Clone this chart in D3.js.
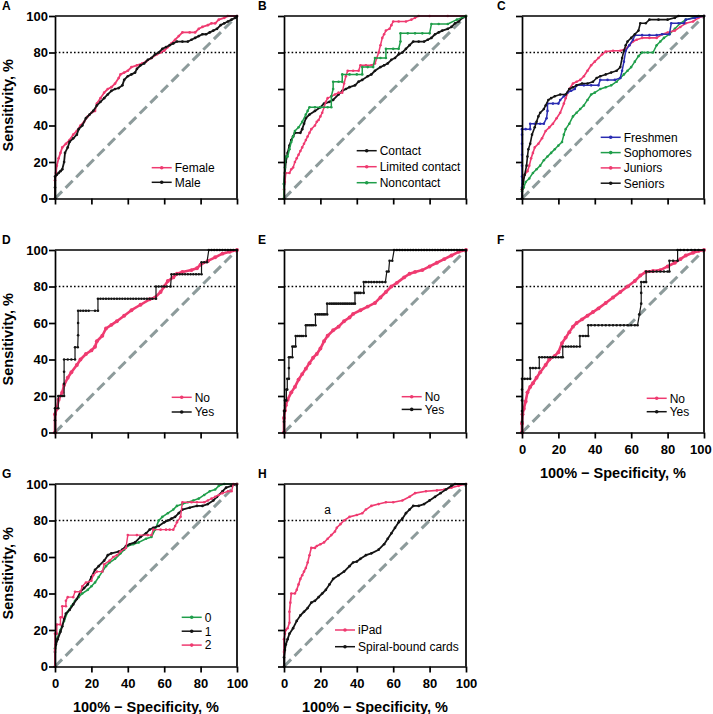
<!DOCTYPE html>
<html><head><meta charset="utf-8">
<script src="https://cdn.jsdelivr.net/npm/d3@7"></script>
<style>
html,body{margin:0;padding:0;background:#fff;}
svg{display:block;font-family:"Liberation Sans",Arial,Helvetica,sans-serif;}
</style></head>
<body>
<svg id="chart" width="713" height="714"></svg>
<script>
// ---------- data ----------
const xTicks = [0, 20, 40, 60, 80, 100];
const yTicks = [0, 20, 40, 60, 80, 100];
const panelLetters = ["A", "B", "C", "D", "E", "F", "G", "H"];
const xTitle = "100% \u2212 Specificity, %";
const yTitle = "Sensitivity, %";
const cutoff = 80;

const namesA = ["Female", "Male"];
const namesB = ["Contact", "Limited contact", "Noncontact"];
const namesC = ["Freshmen", "Sophomores", "Juniors", "Seniors"];
const namesD = ["No", "Yes"];
const namesE = ["No", "Yes"];
const namesF = ["No", "Yes"];
const namesG = ["0", "1", "2"];
const namesH = ["iPad", "Spiral-bound cards"];
const noteH = {text: "a", x: 24, y: 83.5};

const aFemale = [[0,0],[0,10],[0.5,14],[1,18],[2,22],[3,25],[4,28],[6,30],[8,32],[10,35],[12,37],[14,40],[16,42],[18,45],[20,47],[22,48],[23,52],[25,55],[27,58],[29,60],[31,61],[33,63],[35,66],[36,68],[38,69],[40,70],[42,72],[45,73],[48,74],[50,75],[53,77],[56,79],[58,80],[60,81],[62,83],[64,85],[66,87],[68,89],[70,91],[74,91],[77,91],[79,93],[81,94],[84,95],[86,96],[88,96],[90,98],[93,99],[95,100],[100,100]];
const aMale = [[0,0],[0,6],[0,12],[1,13],[2,14],[3,15],[4,16],[5,20],[5.5,25],[7,28],[8,31],[10,33],[12,35],[13,38],[15,40],[17,44],[19,46],[21,48],[23,51],[25,53],[27,55],[29,57],[31,59],[33,60],[35,60.5],[37,62],[38,65],[40,67],[42,68],[44,69],[45,71],[47,73],[49,74],[51,76],[53,77],[55,79],[57,80],[59,82],[61,83],[63,84],[65,85],[67,86],[70,86],[73,86],[75,87],[77,88],[79,89],[81,90],[83,90],[85,91],[87,92],[89,93],[91,95],[93,96],[95,97],[97,98],[99,99],[100,100]];

const bContact = [[0,0],[0,8],[0.5,14],[1,20],[2,25],[3,29],[4,32],[5,34],[6,36],[9,36],[10,38],[11,41],[12,44],[14,46],[17,48],[20,50],[22,52],[25,53],[27,54],[30,57],[32,59],[34,60],[36,61],[39,62],[41,64],[43,65],[46,67],[48,68],[50,70],[53,72],[55,73],[57,74],[59,76],[61,77],[63,79],[65,80],[67,82],[69,84],[71,86],[74,86],[77,86],[79,87],[81,88],[83,90],[85,91],[87,92],[90,93],[92,94],[94,96],[96,97],[98,99],[100,100]];
const bLimited = [[0,0],[0,5],[0.5,9],[1,14],[3,14],[4,16],[5,17],[6,20],[7,22],[8,24],[9,26],[10,28],[11,30],[12,32],[13,34],[14,36],[15,38],[17,40],[18,42],[19,43],[20,45],[21,47],[22,50],[23,53],[24,55],[26,56],[28,57],[30,58],[32,58],[33,63],[34,67],[35,70],[38,70],[41,70],[42,73],[45,73],[48,73],[50,74],[51,77],[52,80],[53,84],[54,88],[55,90],[56,92],[58,93],[59,95],[60,97],[63,97],[67,97],[70,98],[72,99],[74,100],[80,100],[90,100],[100,100]];
const bNon = [[0,0],[0,8],[0.5,17],[1,23],[2,23],[3,27],[4,31],[5,34],[6,37],[8,39],[10,42],[12,46],[13,48],[14,50],[17,50],[20,50],[24,50],[26,50],[26,56],[27,60],[27,64],[30,64],[32,64],[32,68],[36,68],[40,68],[43,68],[43,72],[46,72],[49,72],[50,77],[53,77],[56,77],[56,82],[60,82],[63,82],[64,86],[64,90.5],[68,90.5],[72,90.5],[76,90.5],[80,90.5],[81,95.6],[85,95.6],[90,95.6],[95,98],[100,100]];

const cFresh = [[0,0],[0,6],[0,12],[0,18],[0,24],[0,30],[0,35],[0,38],[2,38],[4.5,38],[4.5,41],[7,41],[10,41],[12,41],[13.5,44],[14,48],[14,52],[17,52],[20,52],[21,54],[23,56],[25,58],[27,59],[29,60],[30,62],[34,62],[38,62],[42,62],[43,65],[47,65],[51,65],[54,66],[55,70],[56,75],[57,81],[59,84],[61,87],[62,89.5],[66,89.5],[70,89.5],[74,89.5],[77,90],[81,90],[82,96],[86,96],[89,96],[90,98],[95,99],[100,100]];
const cSoph = [[0,0],[0,4],[1,6],[2,9],[4,11],[6,14],[8,16],[10,18],[12,21],[14,23],[16,25],[18,27],[20,29],[22,31],[23,35],[24,38],[26,41],[28,45],[30,47],[32,49],[34,51],[36,54],[38,57],[40,58],[43,60],[46,61],[49,62],[52,64],[54,66],[56,68],[58,70],[60,72],[62,75],[64,78],[66,80],[69,80],[72,80],[74,84],[76,86],[78,88],[81,90],[84,93],[87,96],[90,98],[94,99],[97,100],[100,100]];
const cJun = [[0,0],[0,5],[0.5,10],[1.5,13],[3,15],[4,18],[5,22],[6,25],[7,28],[9,30],[11,33],[13,37],[15,39],[17,41],[19,44],[21,47],[23,52],[24,55],[26,60],[28,63],[30,64],[32,65],[34,67],[36,70],[38,73],[40,75],[42,77],[44,79],[46,80.5],[50,81],[54,81],[57,82],[59,84],[61,86],[63,87],[66,88],[70,88],[74,88],[77,90],[80,91],[84,92],[87,94],[90,96],[94,97],[97,99],[100,100]];
const cSen = [[0,0],[0,5],[0.5,8],[1.5,13],[2.5,18],[3,23],[3.5,27],[4.5,30],[5.5,35],[7,39],[8,42],[9,45],[10,47],[12,49],[13,51],[14.5,54],[16,55],[18,56],[21,57],[24,57],[26,60],[28,61],[30,62],[33,63],[36,63],[39,64],[41,66],[43,67],[46,68],[49,69],[52,70],[54,72],[55,77],[56,81],[57,84],[58,86],[60,88],[62,90],[64,92],[65,96],[68,96],[70,98],[75,98],[80,98],[84,99],[86,100],[100,100]];

const dNo = [[0,0],[0,10],[1,13],[2,18],[4,22],[5,26],[7,30],[9,33],[12,37],[14,40],[17,43],[20,45],[22,47],[23,50],[26,53],[28,57],[31,59],[34,61],[38,64],[42,67],[47,70],[52,73],[55,74],[58,77],[60,80],[62,83],[65,85],[67,87],[70,88],[75,89],[78,90],[80,92],[84,94],[88,96],[92,98],[96,99],[100,100]];
const dYes = [[0,0],[0,6.7],[0,13.3],[1.8,13.3],[1.8,20],[3,20],[4,20],[5,20],[5,26.7],[5,33.3],[5,40],[7,40],[9,40],[11,40],[11,46.7],[12.5,46.7],[12.7,53.3],[12.7,60],[12.7,66.7],[14,66.7],[15.5,66.7],[17,66.7],[18.5,66.7],[22,66.7],[23.6,66.7],[23.6,73.3],[25,73.3],[26.5,73.3],[28,73.3],[29.5,73.3],[31,73.3],[32.5,73.3],[34,73.3],[35.5,73.3],[37,73.3],[38.5,73.3],[40,73.3],[41.5,73.3],[43,73.3],[44.5,73.3],[46,73.3],[47.5,73.3],[49,73.3],[50.5,73.3],[52,73.3],[53.5,73.3],[55.5,73.3],[55.5,80],[57,80],[58.5,80],[60,80],[61.5,80],[63.5,80],[64,86.7],[65.5,86.7],[67,86.7],[68.5,86.7],[70,86.7],[71.5,86.7],[73,86.7],[74.5,86.7],[76,86.7],[77.5,86.7],[79,86.7],[80.5,86.7],[80.5,93.3],[82,93.3],[83.5,93.3],[84.5,100],[86,100],[87.5,100],[89,100],[90.5,100],[92,100],[93.5,100],[95,100],[96.5,100],[98,100],[100,100]];

const eNo = [[0,0],[0,8],[0.5,12],[1,15],[2,18],[4,22],[6,25],[8,29],[10,32],[12,35],[14,38],[16,41],[18,43],[20,46],[22,50],[24,53],[27,56],[30,58],[33,61],[36,63],[38,65],[42,67],[46,69],[50,71],[53,74],[56,77],[59,80],[62,82],[66,85],[69,87],[72,88],[76,89],[80,91],[84,93],[88,95],[92,97],[96,99],[100,100]];
const eYes = [[0,0],[0,5.9],[0,11.8],[0.5,11.8],[0.5,17.6],[1.3,17.6],[1.3,23.5],[1.8,23.5],[1.8,29.4],[2.7,29.4],[2.7,35.3],[2.7,41.2],[3.5,41.2],[4.6,41.2],[4.6,47.1],[5.5,47.1],[6.4,47.1],[6.4,52.9],[7.5,52.9],[8.5,52.9],[9.5,52.9],[10.5,52.9],[12,52.9],[12,58.8],[13,58.8],[14,58.8],[15,58.8],[16,58.8],[17.3,58.8],[17.3,64.7],[18.5,64.7],[19.5,64.7],[20.5,64.7],[21.5,64.7],[22.5,64.7],[23.7,64.7],[23.7,70.6],[25,70.6],[26,70.6],[27,70.6],[28,70.6],[29,70.6],[30,70.6],[31,70.6],[32,70.6],[33,70.6],[34,70.6],[35,70.6],[36,70.6],[37,70.6],[38,70.6],[39,70.6],[39,76.5],[40,76.5],[41,76.5],[42,76.5],[43.8,76.5],[43.8,82.4],[45,82.4],[46.5,82.4],[48,82.4],[49.5,82.4],[51,82.4],[52.5,82.4],[54,82.4],[55.7,82.4],[56.5,88.2],[57.5,88.2],[58,94.1],[59.5,94.1],[60.5,100],[62,100],[63.5,100],[65,100],[66.5,100],[68,100],[69.5,100],[71,100],[72.5,100],[74,100],[75.5,100],[77,100],[78.5,100],[80,100],[81.5,100],[83,100],[84.5,100],[86,100],[87.5,100],[89,100],[90.5,100],[92,100],[93.5,100],[95,100],[96.5,100],[98,100],[100,100]];

const fNo = [[0,0],[0,5],[0.3,10],[1,13],[2,17],[3,22],[4.5,25],[6,27],[8,30],[10,33],[13,37],[15,40],[18,42],[20,44],[22,49],[24,52],[26,55],[28,58],[30,60],[33,62],[36,64],[39,66],[42,68],[46,71],[50,74],[54,77],[58,80],[62,83],[65,86],[68,88],[72,88.5],[76,89],[80,91],[84,93],[87,95],[90,97],[94,98.5],[97,99.5],[100,100]];
const fYes = [[0,0],[0,5.9],[0,11.8],[0,17.6],[0,23.5],[0,29.4],[1.5,29.4],[3,29.4],[4.5,29.4],[4.5,35.3],[6,35.3],[7.5,35.3],[9.5,35.3],[9.5,41.2],[11,41.2],[12.5,41.2],[14,41.2],[15.5,41.2],[17,41.2],[18.5,41.2],[20,41.2],[21.5,41.2],[22.4,41.2],[22.4,47.1],[24,47.1],[25.5,47.1],[27,47.1],[28.5,47.1],[30,47.1],[31.8,47.1],[31.8,52.9],[33.5,52.9],[35,52.9],[36.4,52.9],[36.4,58.8],[38,58.8],[40,58.8],[42,58.8],[44,58.8],[46,58.8],[48,58.8],[50,58.8],[52,58.8],[54,58.8],[56,58.8],[58,58.8],[60,58.8],[62,58.8],[63.5,58.8],[64.5,64.7],[65.5,70.6],[65.5,76.5],[65.5,82.4],[67,82.4],[68.2,82.4],[68.2,88.2],[70,88.2],[72,88.2],[74,88.2],[76,88.2],[78,88.2],[80,88.2],[81,88.2],[81,94.1],[83,94.1],[85.5,94.1],[85.5,100],[87,100],[89,100],[91,100],[93,100],[95,100],[97,100],[100,100]];

const g0 = [[0,0],[0,10],[1,15],[3,20],[5,25],[7,30],[9,33],[11,36],[13,38],[15,40],[18,42],[20,44],[22,46],[24,49],[26,52],[28,55],[30,57],[33,59],[36,62],[38,64],[40,66],[43,67],[46,68],[50,70],[53,71],[55,75],[57,80],[59,82],[62,84],[65,86],[67,88],[70,89],[73,90],[76,91],[79,92],[82,94],[85,96],[88,97],[90,99],[93,100],[100,100]];
const g1 = [[0,0],[0,8],[0.5,12],[1.5,15],[3,19],[4,22],[5,26],[6,29],[8,31],[10,34],[12,37],[14,41],[16,43],[18,45],[20,49],[22,53],[24,55],[27,58],[29,61],[31,62],[35,63],[37,64],[39,66],[41,67],[44,68],[47,71],[50,73],[52,75],[54,76],[57,77],[60,79],[62,80],[64,81],[66,82],[68,84],[70,86],[74,87],[78,88],[81,88],[84,89],[87,91],[89,93],[92,96],[94,98],[97,99],[100,100]];
const g2 = [[0,0],[0,9],[0,18],[1,18],[1,23],[3,23],[3,27],[4,27],[4,33],[6,33],[6,36],[7,38],[10,38],[11,41],[14,41],[15,44],[17,46],[20,47],[21,50],[23,52],[26,52],[27,56],[30,58],[32,60],[34,61],[36,63],[39,65],[40,72],[45,72],[51,72],[53,72],[54,75],[58,75],[61,75],[63,75],[65,75],[66,77],[67,79],[69,82],[70,90],[75,90],[78,90],[82,90],[84,91],[86,92],[88,93],[90,94],[92,95],[95,96],[97,96],[98,100],[100,100]];

const hIpad = [[0,0],[0,8],[0,15],[0.5,18],[1,20],[2,21],[3,24],[3,30],[3.5,35],[4,40],[6,40],[7,42],[8,45],[9,48],[10,50],[11,52],[12,54],[13,57],[14,61],[15,65],[17,65],[18,66],[20,67],[22,68],[24,70],[26,72],[28,74],[29,76],[31,78],[33,80],[36,82],[40,83],[43,84],[45,86],[48,88],[52,89],[56,90],[60,90],[65,91],[69,93],[72,95],[78,96],[84,96.5],[88,97],[92,98],[96,99],[100,100]];
const hSpiral = [[0,0],[0,5],[0.5,9],[1,12],[2,15],[3,18],[5,21],[7,25],[9,28],[11,30],[13,32],[15,35],[17,36],[19,38],[21,40],[23,42],[25,45],[27,48],[30,50],[33,52],[36,55],[38,57],[40,57.5],[42,59],[45,61],[48,62],[52,64],[55,67],[57,70],[59,73],[61,76],[63,79],[65,81],[67,84],[69,86],[71,88],[74,88],[77,89],[80,91],[83,93],[86,95],[89,97],[92,99],[94,100],[100,100]];

// ---------- styles / layout ----------
const PINK = "#ef3a70", BLACK = "#141414", GREEN = "#1f9e4a", BLUE = "#2a2cb2", GRAY = "#8d9b9b";
const colX = [55, 284, 522], rowY = [16, 250, 484];
const PW = 182, PH = 182.5;

const panels = [
  {col:0,row:0, yLab:true, xLab:false, series:[[namesA[0],aFemale,PINK,1.8],[namesA[1],aMale,BLACK,1.8]], order:[0,1], leg:[96.7,151.7,14.6]},
  {col:1,row:0, yLab:false, xLab:false, series:[[namesB[0],bContact,BLACK,1.8],[namesB[1],bLimited,PINK,1.5],[namesB[2],bNon,GREEN,1.5]], order:[0,1,2], leg:[72.7,134.7,16]},
  {col:2,row:0, yLab:false, xLab:false, series:[[namesC[0],cFresh,BLUE,1.5],[namesC[1],cSoph,GREEN,1.5],[namesC[2],cJun,PINK,1.6],[namesC[3],cSen,BLACK,1.6]], order:[1,2,0,3], leg:[78.7,121.3,15.3]},
  {col:0,row:1, yLab:true, xLab:false, series:[[namesD[0],dNo,PINK,2.6],[namesD[1],dYes,BLACK,1.2]], order:[0,1], leg:[116.7,147.3,14.7]},
  {col:1,row:1, yLab:false, xLab:false, series:[[namesE[0],eNo,PINK,2.6],[namesE[1],eYes,BLACK,1.2]], order:[0,1], leg:[117.7,146.7,12.7]},
  {col:2,row:1, yLab:false, xLab:true, series:[[namesF[0],fNo,PINK,2.6],[namesF[1],fYes,BLACK,1.2]], order:[0,1], leg:[124.7,148.3,13.4]},
  {col:0,row:2, yLab:true, xLab:true, series:[[namesG[0],g0,GREEN,1.6],[namesG[1],g1,BLACK,1.8],[namesG[2],g2,PINK,1.4]], order:[0,1,2], leg:[126.7,133.3,13.9]},
  {col:1,row:2, yLab:false, xLab:true, series:[[namesH[0],hIpad,PINK,1.6],[namesH[1],hSpiral,BLACK,1.8]], order:[0,1], leg:[51,146,16.7], note:noteH}
];

const svg = d3.select("#chart");

panels.forEach((p, i) => {
  const left = colX[p.col], top = rowY[p.row];
  const g = svg.append("g").attr("transform", `translate(${left},${top})`);
  const x = d3.scaleLinear().domain([0, 100]).range([0, PW]);
  const y = d3.scaleLinear().domain([0, 100]).range([PH, 0]);

  // panel letter
  svg.append("text").attr("x", [2, 258, 497][p.col]).attr("y", top - 6)
    .attr("font-size", 12).attr("font-weight", "bold").text(panelLetters[i]);

  // reference diagonal
  g.append("line").attr("x1", x(0)).attr("y1", y(0)).attr("x2", x(100)).attr("y2", y(100))
    .attr("stroke", GRAY).attr("stroke-width", 3).attr("stroke-dasharray", "10,5");

  // 80% cutoff
  g.append("line").attr("x1", x(0)).attr("x2", x(100)).attr("y1", y(cutoff)).attr("y2", y(cutoff))
    .attr("stroke", "#000").attr("stroke-width", 1.3).attr("stroke-dasharray", "1.6,2.2");

  // series
  const line = d3.line().x(d => x(d[0])).y(d => y(d[1]));
  p.order.forEach(k => {
    const [name, data, color, w] = p.series[k];
    g.append("path").datum(data).attr("d", line).attr("fill", "none")
      .attr("stroke", color).attr("stroke-width", w).attr("stroke-linejoin", "round");
    g.append("g").selectAll("circle").data(data).join("circle")
      .attr("cx", d => x(d[0])).attr("cy", d => y(d[1])).attr("r", Math.max(1.3, w * 0.75)).attr("fill", color);
  });

  // axes
  const xa = d3.axisBottom(x).tickValues(xTicks).tickSize(6).tickSizeOuter(0).tickPadding(6)
    .tickFormat(p.xLab ? d3.format("d") : () => "");
  const ya = d3.axisLeft(y).tickValues(yTicks).tickSize(6).tickSizeOuter(0).tickPadding(1)
    .tickFormat(p.yLab ? d3.format("d") : () => "");
  const gx = g.append("g").attr("transform", `translate(0,${PH})`).call(xa);
  const gy = g.append("g").call(ya);
  [gx, gy].forEach(a => {
    a.selectAll("path,line").attr("stroke", "#000").attr("stroke-width", 1.7);
    a.selectAll("text").attr("font-size", 13).attr("font-weight", "bold").attr("fill", "#000")
      .attr("font-family", "'Liberation Sans',Arial,sans-serif");
  });
  // keep the last x label of the right-hand column inside the picture
  if (p.xLab && p.col === 2) {
    gx.selectAll(".tick text").filter(d => d === 100).attr("text-anchor", "end").attr("dx", "0.55em");
  }
  // frame top & right
  g.append("path").attr("d", `M0,0H${PW}V${PH}`).attr("fill", "none").attr("stroke", "#000").attr("stroke-width", 1.7);

  // axis titles
  if (p.yLab) {
    svg.append("text").attr("transform", `translate(13,${top + PH / 2 - 2}) rotate(-90)`)
      .attr("text-anchor", "middle").attr("font-size", 14.5).attr("font-weight", "bold").text(yTitle);
  }
  if (p.xLab) {
    svg.append("text").attr("x", left + PW / 2).attr("y", top + PH + 45)
      .attr("text-anchor", "middle").attr("font-size", 14.5).attr("font-weight", "bold").text(xTitle);
  }

  // legend
  const [lx, ly, ls] = p.leg;
  p.series.forEach((s, k) => {
    const yy = ly + k * ls;
    const lg = g.append("g");
    lg.append("line").attr("x1", lx).attr("x2", lx + 20).attr("y1", yy).attr("y2", yy)
      .attr("stroke", s[2]).attr("stroke-width", 1.5);
    lg.append("circle").attr("cx", lx + 10).attr("cy", yy).attr("r", 1.8).attr("fill", s[2]);
    lg.append("text").attr("x", lx + 23).attr("y", yy).attr("dy", "0.36em")
      .attr("font-size", 12).attr("fill", "#000").text(s[0]);
  });

  if (p.note) {
    g.append("text").attr("x", x(p.note.x)).attr("y", y(p.note.y)).attr("text-anchor", "middle")
      .attr("font-size", 12).text(p.note.text);
  }
});
</script>
</body></html>
